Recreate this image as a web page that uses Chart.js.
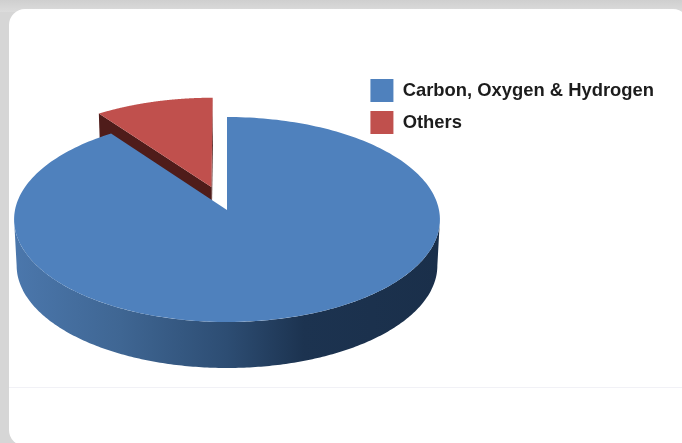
<!DOCTYPE html>
<html>
<head>
<meta charset="utf-8">
<style>
html,body{margin:0;padding:0;width:682px;height:443px;overflow:hidden;background:#d6d6d6}
#band{position:absolute;left:0;top:0;width:682px;height:12px;background:linear-gradient(#cfcfcf,#dcdcdc)}
#card{position:absolute;left:9px;top:9px;width:680px;height:437px;background:#fff;border-radius:16px}
#rule{position:absolute;left:9px;top:387px;width:673px;height:1px;background:#f1f1f6}
#wrap{position:absolute;left:0;top:0;width:682px;height:443px}
canvas{filter:blur(0.75px)}
</style>
<script src="https://cdn.jsdelivr.net/npm/chart.js@4/dist/chart.umd.js"></script>
</head>
<body>
<div id="band"></div><div id="card"></div><div id="rule"></div>
<div id="wrap"><canvas id="c" width="682" height="443"></canvas></div>
<script>
const categories = ["Carbon, Oxygen & Hydrogen", "Others"];
const shares = [90, 10];

const COLORS = ["#4f81bd", "#c0504d"];
const EXPLODE = [0, 24.3];          // percent of the radius
const VIEW = {x:227, y:210, a:212, b:101.6, k:0.0927, depth:46, shrink:0.012};

function project(u, v, z){
  const w = 1 - VIEW.k * v;
  return {
    x: VIEW.x + VIEW.a * (1 - VIEW.shrink * z) * u / w,
    y: VIEW.y + VIEW.b * v / w + VIEW.depth * z
  };
}

const pie3d = {
  id: "pie3d",
  beforeDatasetsDraw(chart){
    const ctx = chart.ctx;
    const arcs = chart.getDatasetMeta(0).data;
    const wall = ctx.createLinearGradient(14, 0, 440, 0);
    wall.addColorStop(0, "#4b77ac");
    wall.addColorStop(0.25, "#3f6693");
    wall.addColorStop(0.5, "#2d4d73");
    wall.addColorStop(0.68, "#1c3350");
    wall.addColorStop(1, "#1a2f4a");
    const walls = [wall, "#4f1c1a"];
    // far slice first, so that the big slice covers its hidden side
    const order = arcs.map((_, i) => i).sort((p, q) => q - p);
    order.forEach(i => {
      const arc = arcs[i];
      const s = arc.startAngle, e = arc.endAngle, mid = (s + e) / 2;
      const off = (arc.options.offset || 0) / 100;
      const ox = Math.cos(mid) * off, oy = Math.sin(mid) * off;
      const pt = (ang, z) => project(ox + Math.cos(ang), oy + Math.sin(ang), z);
      const apex = z => project(ox, oy, z);
      const N = 240;

      // front rim
      const lim = Math.asin(VIEW.k);
      const from = Math.max(s, lim), to = Math.min(e, Math.PI - lim);
      if (to > from){
        ctx.beginPath();
        for (let n = 0; n <= N; n++){
          const p = pt(from + (to - from) * n / N, 0);
          n ? ctx.lineTo(p.x, p.y) : ctx.moveTo(p.x, p.y);
        }
        for (let n = N; n >= 0; n--){
          const p = pt(from + (to - from) * n / N, 1);
          ctx.lineTo(p.x, p.y);
        }
        ctx.closePath();
        ctx.fillStyle = walls[i];
        ctx.fill();
      }

      // cut faces that look down towards the viewer
      const M = pt(mid, 0), P = apex(0);
      [s, e].forEach(ang => {
        const Q = pt(ang, 0);
        let nx = -(Q.y - P.y), ny = Q.x - P.x;
        if ((M.x - P.x) * nx + (M.y - P.y) * ny > 0){ nx = -nx; ny = -ny; }
        if (ny / Math.hypot(nx, ny) > 0.01){
          const Q1 = pt(ang, 1), P1 = apex(1);
          ctx.beginPath();
          ctx.moveTo(P.x, P.y); ctx.lineTo(Q.x, Q.y);
          ctx.lineTo(Q1.x, Q1.y); ctx.lineTo(P1.x, P1.y);
          ctx.closePath();
          ctx.fillStyle = walls[i];
          ctx.fill();
        }
      });

      // top face
      ctx.beginPath();
      ctx.moveTo(P.x, P.y);
      for (let n = 0; n <= N; n++){
        const p = pt(s + (e - s) * n / N, 0);
        ctx.lineTo(p.x, p.y);
      }
      ctx.closePath();
      ctx.fillStyle = arc.options.backgroundColor;
      ctx.fill();
    });
    return false;
  }
};

new Chart(document.getElementById("c"), {
  type: "pie",
  data: {
    labels: categories,
    datasets: [{
      data: shares,
      backgroundColor: COLORS,
      borderWidth: 0,
      offset: EXPLODE
    }]
  },
  plugins: [pie3d],
  options: {
    responsive: false,
    animation: false,
    layout: {padding: {top: 70, right: 18, left: 0, bottom: 0}},
    plugins: {
      tooltip: {enabled: false},
      legend: {
        position: "right",
        align: "start",
        labels: {
          boxWidth: 23,
          boxHeight: 23,
          padding: 9,
          color: "#1c1c1c",
          font: {family: "'Liberation Sans', Arial, sans-serif", size: 18.4, weight: "bold"}
        }
      }
    }
  }
});
</script>
</body>
</html>
